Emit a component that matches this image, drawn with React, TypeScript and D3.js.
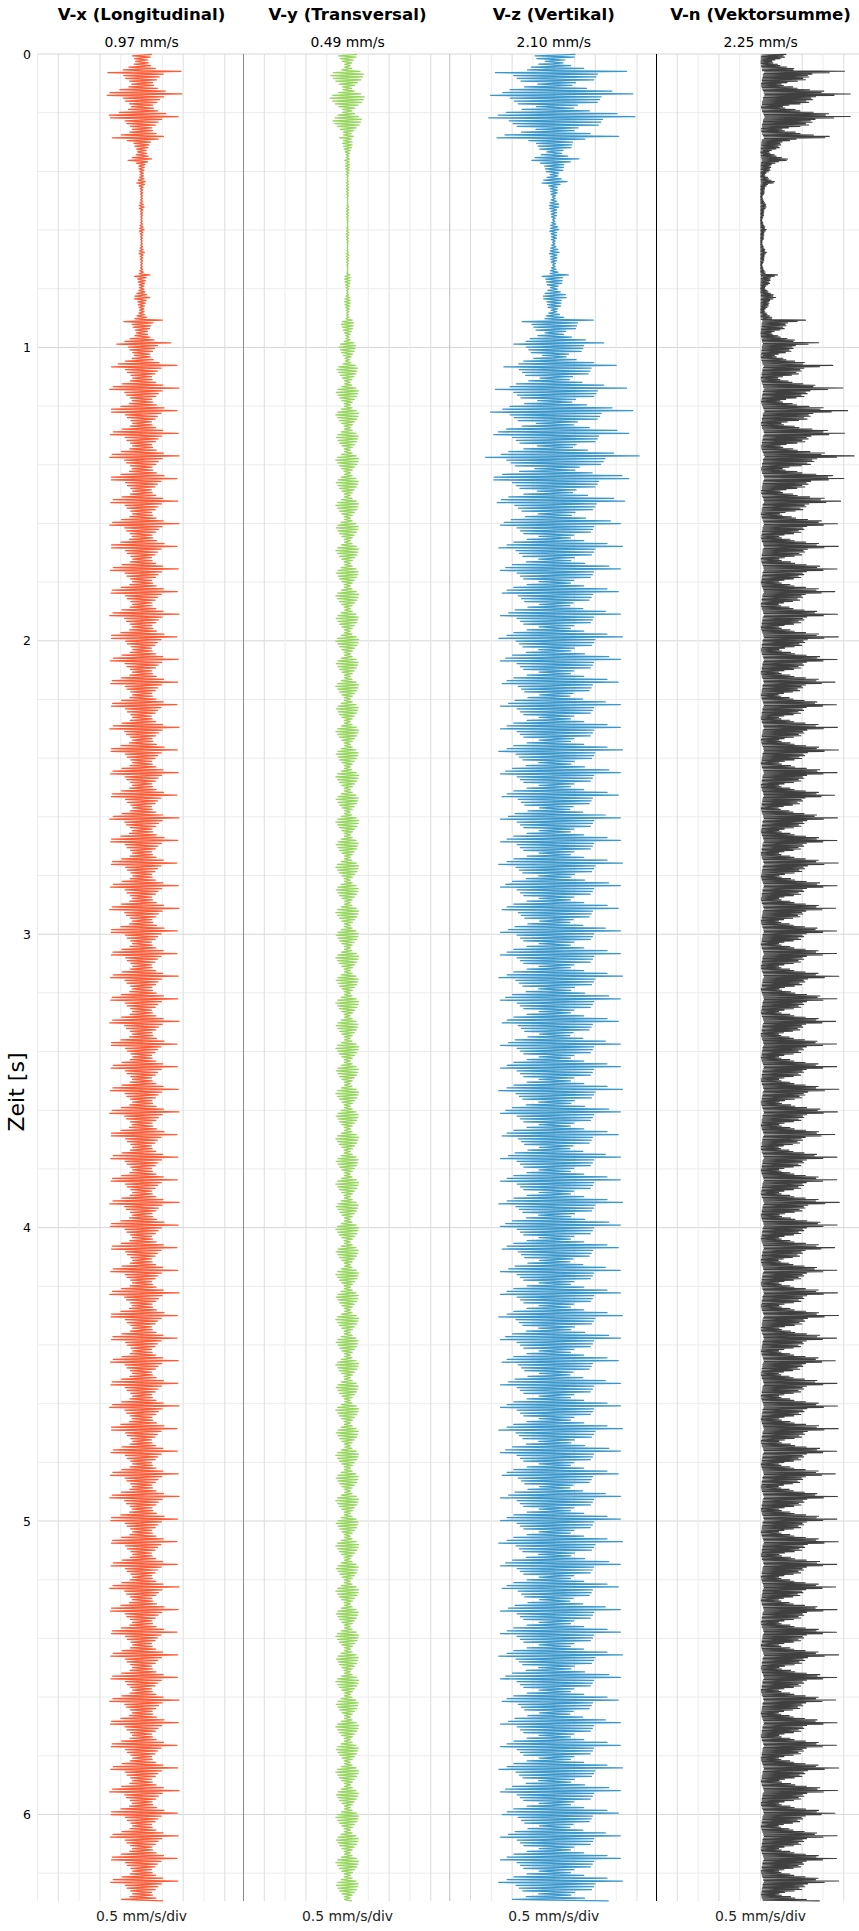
import React from 'react';
import * as d3 from 'd3';

const TITLES = ['V-x (Longitudinal)', 'V-y (Transversal)', 'V-z (Vertikal)', 'V-n (Vektorsumme)'];
const PEAK_LABELS = ['0.97 mm/s', '0.49 mm/s', '2.10 mm/s', '2.25 mm/s'];
const SCALE_LABEL = '0.5 mm/s/div';
const COLORS = ['#ff5a36', '#95d65c', '#3a97cb', '#404040'];
const STROKE_W = [1.25, 1.25, 1.25, 1.1];
const TIME_TICKS = [0, 1, 2, 3, 4, 5, 6];
const T_MAX = 6.295;
const BURST_PERIOD = 0.0771;
const FIRST_BURST = -0.0181;

// waveform of one burst (normalised), read from a representative burst
const SHAPE_X = [1.0, 0.05, -0.85, -0.04, 0.55, 0.03, -0.45, -0.03, 0.45, 0.02, -0.4, -0.02, 0.38, 0.02, -0.3, -0.02,
  0.28, 0.01, -0.25, -0.01, 0.3, 0.02, -0.32, -0.02, 0.4, 0.03, -0.55, -0.04, 0.6, 0.04, -0.8, -0.05];
const SHAPE_Y = [0.75, 0.04, -0.85, -0.05, 0.95, 0.05, -1.0, -0.05, 0.9, 0.04, -0.85, -0.04, 0.8, 0.03, -0.7, -0.03,
  0.6, 0.03, -0.5, -0.02, 0.42, 0.02, -0.3, -0.01, 0.25, 0.01, -0.28, -0.01, 0.4, 0.02, -0.55, -0.03];
const SHAPE_Z = [1.0, 0.05, -0.8, -0.04, 0.6, 0.03, -0.55, -0.03, 0.58, 0.03, -0.5, -0.02, 0.55, 0.02, -0.45, -0.02,
  0.3, 0.01, -0.22, -0.01, 0.25, 0.01, -0.4, -0.02, 0.45, 0.02, -0.6, -0.03, 0.8, 0.04, -0.7, -0.04];

// burst amplitudes (mm/s), one per burst of ~0.077 s
const ENV_X = [0.55, 0.95, 0.97, 0.88, 0.4, 0.15, 0.07, 0.06, 0.06, 0.07, 0.2, 0.2, 0.5, 0.7,
  0.85, 0.9, 0.85, 0.88, 0.9, 0.85, 0.87, 0.9, 0.85, 0.88, 0.86, 0.9, 0.85, 0.88, 0.87, 0.85,
  0.9, 0.86, 0.88, 0.85, 0.9, 0.87, 0.85, 0.88, 0.9, 0.86, 0.85, 0.88, 0.87, 0.9, 0.85, 0.86,
  0.88, 0.9, 0.85, 0.87, 0.86, 0.9, 0.88, 0.85, 0.87, 0.9, 0.86, 0.85, 0.88, 0.87, 0.9, 0.85,
  0.86, 0.88, 0.9, 0.87, 0.85, 0.86, 0.9, 0.88, 0.85, 0.87, 0.86, 0.9, 0.88, 0.85, 0.87, 0.9,
  0.86, 0.88, 0.85, 0.87];
const ENV_Y = [0.25, 0.4, 0.42, 0.35, 0.12, 0.05, 0.03, 0.03, 0.03, 0.03, 0.07, 0.07, 0.15, 0.2,
  0.25, 0.27, 0.28, 0.27, 0.28, 0.27, 0.28, 0.27, 0.28, 0.27, 0.28, 0.27, 0.28, 0.27, 0.28, 0.27,
  0.28, 0.27, 0.28, 0.27, 0.28, 0.27, 0.28, 0.27, 0.28, 0.27, 0.28, 0.27, 0.28, 0.27, 0.28, 0.27,
  0.28, 0.27, 0.28, 0.27, 0.28, 0.27, 0.28, 0.27, 0.28, 0.27, 0.28, 0.27, 0.28, 0.27, 0.28, 0.27,
  0.28, 0.27, 0.28, 0.27, 0.28, 0.27, 0.28, 0.27, 0.28, 0.27, 0.28, 0.27, 0.28, 0.27, 0.28, 0.27,
  0.28, 0.27, 0.28, 0.27];
const ENV_Z = [0.9, 1.75, 1.9, 1.95, 0.75, 0.4, 0.15, 0.12, 0.12, 0.13, 0.35, 0.3, 0.95, 1.2,
  1.5, 1.75, 1.9, 1.8, 2.05, 1.8, 1.7, 1.6, 1.65, 1.6, 1.55, 1.6, 1.65, 1.6, 1.55, 1.6,
  1.6, 1.65, 1.6, 1.55, 1.6, 1.6, 1.65, 1.6, 1.55, 1.6, 1.6, 1.65, 1.6, 1.55, 1.6, 1.6,
  1.65, 1.6, 1.55, 1.6, 1.6, 1.65, 1.6, 1.55, 1.6, 1.6, 1.65, 1.6, 1.55, 1.6, 1.6, 1.65,
  1.6, 1.55, 1.6, 1.6, 1.65, 1.6, 1.55, 1.6, 1.6, 1.65, 1.6, 1.55, 1.6, 1.6, 1.65, 1.6,
  1.55, 1.6, 1.6, 1.65];

type Pt = { t: number; v: number };

function buildSeries(): Pt[][] {
  const n = SHAPE_X.length;
  const sx: Pt[] = [], sy: Pt[] = [], sz: Pt[] = [], sn: Pt[] = [];
  for (let k = 0; k < ENV_X.length; k++) {
    for (let j = 0; j < n; j++) {
      const t = FIRST_BURST + k * BURST_PERIOD + (j * BURST_PERIOD) / n;
      if (t < 0 || t > T_MAX) continue;
      const vx = SHAPE_X[j] * ENV_X[k];
      const vy = SHAPE_Y[j] * ENV_Y[k];
      const vz = SHAPE_Z[j] * ENV_Z[k];
      sx.push({ t, v: vx });
      sy.push({ t, v: vy });
      sz.push({ t, v: vz });
      sn.push({ t, v: Math.sqrt(vx * vx + vy * vy + vz * vz) });
    }
  }
  return [sx, sy, sz, sn];
}

const W = 859;
const H = 1931;
const TOP = 54;
const BOTTOM = 1901;
const PANEL_LEFT = [37.5, 243.5, 449.7, 656.5];
const PANEL_W = 206;
const X_DOMAIN: [number, number] = [-2.5, 2.45];
const FONT = 'DejaVu Sans, sans-serif';
const SPINE_STYLE = [
  { c: '#8a8a8a', w: 1 },
  { c: '#b0b0b0', w: 0.7 },
  { c: '#000000', w: 1 },
];

export default function App() {
  const y = d3.scaleLinear().domain([0, T_MAX]).range([TOP, BOTTOM]);
  const xs = PANEL_LEFT.map((l) => d3.scaleLinear().domain(X_DOMAIN).range([l, l + PANEL_W]));
  const series = buildSeries();
  const minorT = d3.range(0, T_MAX + 1e-9, 0.2).filter((t) => Math.abs(t - Math.round(t)) > 1e-6);
  const gridV = d3.range(-2.5, 2.45 + 1e-9, 0.5);

  return (
    <div style={{ position: 'absolute', left: 0, top: 0 }}>
      <svg width={W} height={H} style={{ display: 'block', background: '#fff' }} fontFamily={FONT}>
        {minorT.map((t) => (
          <line key={'hm' + t} x1={37.5} x2={W} y1={y(t)} y2={y(t)} stroke="#ececec" strokeWidth={1} />
        ))}
        {TIME_TICKS.map((t) => (
          <line key={'hM' + t} x1={37.5} x2={W} y1={y(t)} y2={y(t)} stroke="#d6d6d6" strokeWidth={1} />
        ))}
        {xs.map((x, i) =>
          gridV.map((g) => (
            <line key={'v' + i + g} x1={x(g)} x2={x(g)} y1={TOP} y2={BOTTOM}
              stroke={Math.abs(g - Math.round(g)) < 1e-6 ? '#dcdcdc' : '#ececec'} strokeWidth={1} />
          ))
        )}
        {PANEL_LEFT.slice(1).map((l, i) => (
          <line key={'s' + i} x1={l} x2={l} y1={TOP} y2={BOTTOM} stroke={SPINE_STYLE[i].c}
            strokeWidth={SPINE_STYLE[i].w} />
        ))}
        {series.map((s, i) => {
          const line = d3.line<Pt>().x((d) => xs[i](d.v)).y((d) => y(d.t));
          return (
            <path key={'p' + i} d={line(s) || ''} fill="none" stroke={COLORS[i]} strokeWidth={STROKE_W[i]}
              strokeLinejoin="round" />
          );
        })}
        {TITLES.map((t, i) => (
          <text key={'t' + i} x={xs[i](0)} y={20} textAnchor="middle" fontSize={16.6} fontWeight="bold" fill="#000">
            {t}
          </text>
        ))}
        {PEAK_LABELS.map((t, i) => (
          <text key={'pl' + i} x={xs[i](0)} y={46.5} textAnchor="middle" fontSize={13.9} fill="#000">
            {t}
          </text>
        ))}
        {PANEL_LEFT.map((l, i) => (
          <text key={'b' + i} x={xs[i](0)} y={1921} textAnchor="middle" fontSize={13.9} fill="#222">
            {SCALE_LABEL}
          </text>
        ))}
        {TIME_TICKS.map((t) => (
          <text key={'yt' + t} x={31} y={y(t) + 4.5} textAnchor="end" fontSize={12.5} fill="#000">
            {t}
          </text>
        ))}
        <text transform={`translate(24,1092) rotate(-90)`} textAnchor="middle" fontSize={22} fill="#000">
          Zeit [s]
        </text>
      </svg>
    </div>
  );
}
